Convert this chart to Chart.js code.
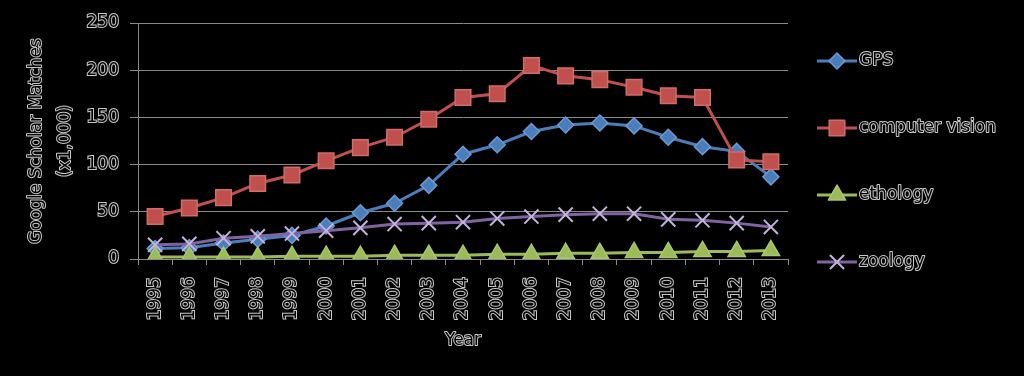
<!DOCTYPE html>
<html>
<head>
<meta charset="utf-8">
<script src="https://cdn.jsdelivr.net/npm/chart.js@4"></script>
<style>
    html, body { margin: 0; padding: 0; background: #000; }
    #wrap { width: 1024px; height: 376px; }
</style>
</head>
<body>
<div id="wrap"><canvas id="matches-canvas" width="1024" height="376"></canvas></div>
<script>
const years = ['1995', '1996', '1997', '1998', '1999', '2000', '2001', '2002', '2003', '2004',
               '2005', '2006', '2007', '2008', '2009', '2010', '2011', '2012', '2013'];
const gpsValues = [11, 12, 17, 21, 25, 35, 49, 59, 78, 111, 121, 135, 142, 144, 141, 129, 119, 114, 87];
const visionValues = [45, 54, 65, 80, 89, 104, 118, 129, 148, 171, 175, 205, 194, 190, 182, 173, 171, 105, 103];
const ethologyValues = [2, 2, 2, 2, 3, 3, 3, 4, 4, 4, 5, 5, 6, 6, 7, 7, 8, 8, 9];
const zoologyValues = [15, 16, 22, 24, 27, 30, 33, 37, 38, 39, 43, 45, 47, 48, 48, 42, 41, 38, 34];
const yTickValues = [0, 50, 100, 150, 200, 250];
const seriesNames = ['GPS', 'computer vision', 'ethology', 'zoology'];

const FONT = '"DejaVu Sans", sans-serif';
const OUTLINE = '#c8c8c8';

// text in the original is black with a light outline
function outlineText(ctx, text, x, y) {
    ctx.lineJoin = 'round';
    ctx.lineWidth = 2;
    ctx.strokeStyle = OUTLINE;
    ctx.strokeText(text, x, y);
    ctx.fillStyle = '#000';
    ctx.fillText(text, x, y);
}

const blackBackground = {
    id: 'blackBackground',
    beforeDraw(chart) {
        const ctx = chart.ctx;
        ctx.save();
        ctx.fillStyle = '#000';
        ctx.fillRect(0, 0, chart.width, chart.height);
        ctx.restore();
    }
};

const titlesAndLegend = {
    id: 'titlesAndLegend',
    afterDraw(chart) {
        const ctx = chart.ctx;
        const area = chart.chartArea;
        ctx.save();
        ctx.font = '17px ' + FONT;
        ctx.textBaseline = 'middle';

        // y axis title, two lines
        ctx.textAlign = 'center';
        ctx.save();
        ctx.translate(37, 141);
        ctx.rotate(-Math.PI / 2);
        outlineText(ctx, 'Google Scholar Matches', 0, 0);
        ctx.restore();
        ctx.save();
        ctx.translate(66, 141);
        ctx.rotate(-Math.PI / 2);
        outlineText(ctx, '(x1,000)', 0, 0);
        ctx.restore();

        // x axis title
        outlineText(ctx, 'Year', (area.left + area.right) / 2, 341);

        // legend on the right
        ctx.textAlign = 'left';
        chart.data.datasets.forEach((ds, i) => {
            const y = 61 + i * 67;
            ctx.beginPath();
            ctx.strokeStyle = ds.borderColor;
            ctx.lineWidth = 3;
            ctx.moveTo(817, y);
            ctx.lineTo(857, y);
            ctx.stroke();
            ctx.fillStyle = ds.pointBackgroundColor;
            ctx.strokeStyle = ds.pointBorderColor;
            ctx.lineWidth = ds.pointBorderWidth;
            Chart.helpers.drawPoint(ctx, {
                pointStyle: ds.pointStyle,
                radius: ds.pointRadius,
                borderWidth: ds.pointBorderWidth,
                rotation: 0
            }, 837, y);
            ctx.font = '17px ' + FONT;
            outlineText(ctx, ds.label, 859, y);
        });
        ctx.restore();
    }
};

function makeSeries(label, values, color, pointStyle, radius, pointBorder, borderW, order) {
    return {
        label: label,
        data: values,
        borderColor: color,
        backgroundColor: color,
        borderWidth: 3,
        tension: 0,
        pointStyle: pointStyle,
        pointRadius: radius,
        pointHoverRadius: radius,
        pointBackgroundColor: color,
        pointBorderColor: pointBorder,
        pointBorderWidth: borderW,
        order: order
    };
}

const ctx = document.getElementById('matches-canvas').getContext('2d');
const chart = new Chart(ctx, {
    type: 'line',
    data: {
        labels: years,
        datasets: [
            makeSeries(seriesNames[0], gpsValues, '#4a7ebb', 'rectRot', 8, '#6c9ad2', 1.5, 4),
            makeSeries(seriesNames[1], visionValues, '#c0504d', 'rect', 11, '#d06c69', 1.5, 3),
            makeSeries(seriesNames[2], ethologyValues, '#9bbb59', 'triangle', 10, '#a9c76d', 1.5, 2),
            makeSeries(seriesNames[3], zoologyValues, '#8064a2', 'crossRot', 10, '#c4b4dc', 2, 1)
        ]
    },
    options: {
        responsive: false,
        animation: false,
        layout: {
            padding: { left: 0, right: 236, top: 23, bottom: 0 }
        },
        plugins: {
            legend: { display: false },
            title: { display: false },
            tooltip: { enabled: false }
        },
        scales: {
            x: {
                offset: true,
                grid: {
                    offset: true,
                    drawOnChartArea: false,
                    color: '#8a8a8a',
                    tickLength: 6
                },
                border: { color: '#8a8a8a', width: 1 },
                ticks: {
                    minRotation: 90,
                    maxRotation: 90,
                    autoSkip: false,
                    padding: 12,
                    color: '#000',
                    textStrokeColor: OUTLINE,
                    textStrokeWidth: 2,
                    font: { family: FONT, size: 17 }
                },
                afterFit(scale) {
                    scale.height = 117;
                }
            },
            y: {
                min: 0,
                max: 250,
                afterBuildTicks(scale) {
                    scale.ticks = yTickValues.map(v => ({ value: v }));
                },
                grid: {
                    color: '#8a8a8a',
                    tickLength: 8
                },
                border: { color: '#8a8a8a', width: 1 },
                ticks: {
                    padding: 11,
                    color: '#000',
                    textStrokeColor: OUTLINE,
                    textStrokeWidth: 2,
                    font: { family: FONT, size: 17 }
                },
                afterFit(scale) {
                    scale.width = 138;
                }
            }
        }
    },
    plugins: [blackBackground, titlesAndLegend]
});
console.log('chart area', chart.chartArea);
</script>
</body>
</html>
